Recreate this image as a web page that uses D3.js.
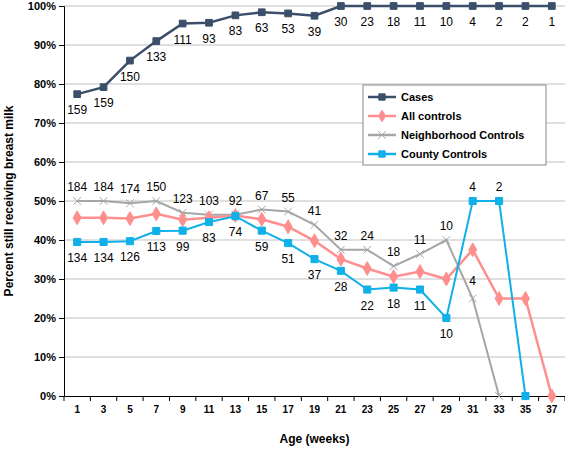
<!DOCTYPE html><html><head><script src="https://cdn.jsdelivr.net/npm/d3@7"></script>
<style>body{margin:0;background:#fff;font-family:Arial,"Liberation Sans",sans-serif}</style></head><body>
<svg id="c" width="565" height="453"></svg>
<script>
const weeks=[1,3,5,7,9,11,13,15,17,19,21,23,25,27,29,31,33,35,37];
const cases=[77.4,79.2,86,91,95.5,95.7,97.6,98.4,98.1,97.5,100,100,100,100,100,100,100,100,100];
const casesN=[159,159,150,133,111,93,83,63,53,39,30,23,18,11,10,4,2,2,1];
const allC=[45.7,45.7,45.5,46.7,45.2,45.7,46.3,45.3,43.4,39.8,35.1,32.7,30.6,31.9,30,37.5,25,25,0];
const neigh=[50,50,49.4,50,47,46.5,46.5,47.8,47.3,43.9,37.5,37.5,33.3,36.4,40,25,0];
const neighN=[184,184,174,150,123,103,92,67,55,41,32,24,18,11,10,4,null];
const county=[39.5,39.5,39.7,42.3,42.4,44.6,46.1,42.4,39.2,35.1,32.1,27.3,27.8,27.3,20,50,50,0];
const countyN=[134,134,126,113,99,83,74,59,51,37,28,22,18,11,10,4,2,null];
const yTicks=[0,10,20,30,40,50,60,70,80,90,100];
const svg=d3.select("#c");
const L=64,R=565,T=6,B=396;
const x=d3.scaleBand().domain(weeks).range([L,R]);
const y=d3.scaleLinear().domain([0,100]).range([B,T]);
const cx=w=>x(w)+x.bandwidth()/2;
svg.append("g").selectAll("line").data(yTicks.slice(1)).join("line").attr("x1",L).attr("x2",R).attr("y1",y).attr("y2",y).attr("stroke","#c0c0c0").attr("stroke-width",1.2);
svg.append("g").attr("transform",`translate(${L},0)`).call(d3.axisLeft(y).tickValues(yTicks).tickFormat(d=>d+"%").tickSize(5))
 .call(g=>{g.selectAll("text").attr("font-size",11).attr("font-weight","bold").attr("fill","#000");g.selectAll("line,path").attr("stroke","#000");});
svg.append("g").attr("transform",`translate(0,${B})`).call(d3.axisBottom(x).tickSize(0).tickPadding(10))
 .call(g=>{g.selectAll("text").attr("font-size",10).attr("font-weight","bold").attr("fill","#000");g.select("path").attr("stroke","#000");});
svg.append("g").selectAll("line").data(weeks.concat([null])).join("line").attr("x1",(d,i)=>L+i*x.bandwidth()).attr("x2",(d,i)=>L+i*x.bandwidth()).attr("y1",B).attr("y2",B+5).attr("stroke","#000");
function series(vals,color,sym,size,w){
 const pts=vals.map((v,i)=>[cx(weeks[i]),y(v)]);
 svg.append("path").attr("d",d3.line()(pts)).attr("fill","none").attr("stroke",color).attr("stroke-width",w);
 svg.append("g").selectAll("path").data(pts).join("path").attr("transform",d=>`translate(${d})`).attr("d",d3.symbol(sym,size)()).attr("fill",color).attr("stroke",color);
}
series(neigh,"#a6a6a6",d3.symbolX,40,2);
series(allC,"#ff8f8f",d3.symbolDiamond,55,2.5);
series(county,"#10b0e8",d3.symbolSquare,50,2);
series(cases,"#3b4f6b",d3.symbolSquare,45,2.5);
function labels(vals,ns,dy){
 svg.append("g").selectAll("text").data(ns.map((n,i)=>({n,i})).filter(d=>d.n!=null)).join("text")
 .attr("x",d=>cx(weeks[d.i])).attr("y",d=>y(vals[d.i])+dy(d.i)).attr("text-anchor","middle").attr("font-size",12).attr("fill","#000").text(d=>d.n);
}
labels(cases,casesN,i=>20);
labels(neigh,neighN,i=>i==15?-14:-10);
labels(county,countyN,i=>i>=15?-10:20);
const lg=svg.append("g").attr("transform","translate(363,85)");
lg.append("rect").attr("width",183).attr("height",80).attr("fill","#fff").attr("stroke","#888");
[["Cases","#3b4f6b",d3.symbolSquare],["All controls","#ff8f8f",d3.symbolDiamond],["Neighborhood Controls","#a6a6a6",d3.symbolX],["County Controls","#10b0e8",d3.symbolSquare]].forEach((d,i)=>{
 const yy=12+i*19;
 lg.append("line").attr("x1",5).attr("x2",33).attr("y1",yy).attr("y2",yy).attr("stroke",d[1]).attr("stroke-width",2.5);
 lg.append("path").attr("transform",`translate(19,${yy})`).attr("d",d3.symbol(d[2],40)()).attr("fill",d[1]).attr("stroke",d[1]);
 lg.append("text").attr("x",38).attr("y",yy+4).attr("font-size",11).attr("font-weight","bold").text(d[0]);
});
svg.append("text").attr("x",(L+R)/2).attr("y",443).attr("text-anchor","middle").attr("font-size",12).attr("font-weight","bold").text("Age (weeks)");
svg.append("text").attr("transform","translate(13,201) rotate(-90)").attr("text-anchor","middle").attr("font-size",12).attr("font-weight","bold").text("Percent still receiving breast milk");
</script></body></html>
